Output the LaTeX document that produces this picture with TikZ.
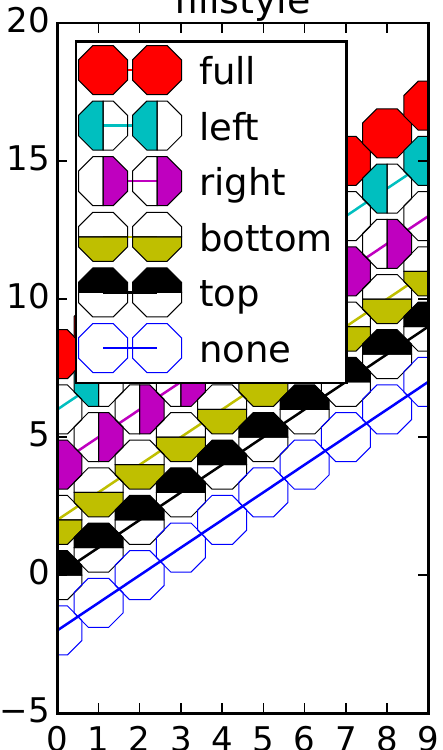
\documentclass[tikz,border=0pt]{standalone}
\usepackage{fontspec}
\setmainfont{DejaVu Sans}
\definecolor{mpc}{rgb}{0,0.75,0.75}
\definecolor{mpm}{rgb}{0.75,0,0.75}
\definecolor{mpy}{rgb}{0.75,0.75,0}
\definecolor{mpb}{rgb}{0,0,1}
\definecolor{mpr}{rgb}{1,0,0}
\def\ra{24.5pt}
\def\rb{10.15pt}
\tikzset{
  octo/.pic={\path[pic actions] (\ra,\rb)--(\rb,\ra)--(-\rb,\ra)--(-\ra,\rb)--(-\ra,-\rb)--(-\rb,-\ra)--(\rb,-\ra)--(\ra,-\rb)--cycle;},
  halfL/.pic={\path[pic actions] (0pt,\ra)--(-\rb,\ra)--(-\ra,\rb)--(-\ra,-\rb)--(-\rb,-\ra)--(0pt,-\ra)--cycle;},
  halfR/.pic={\path[pic actions] (0pt,\ra)--(\rb,\ra)--(\ra,\rb)--(\ra,-\rb)--(\rb,-\ra)--(0pt,-\ra)--cycle;},
  halfT/.pic={\path[pic actions] (\ra,0pt)--(\ra,\rb)--(\rb,\ra)--(-\rb,\ra)--(-\ra,\rb)--(-\ra,0pt)--cycle;},
  halfB/.pic={\path[pic actions] (\ra,0pt)--(\ra,-\rb)--(\rb,-\ra)--(-\rb,-\ra)--(-\ra,-\rb)--(-\ra,0pt)--cycle;},
  nopic/.pic={},
  dataline/.style={line width=2.5pt},
  mk/.style={line width=1pt, line join=miter},
  spine/.style={line width=2.5pt},
  tickmark/.style={line width=1.5pt},
  ticklab/.style={inner sep=0pt, font=\fontsize{34}{36}\selectfont},
  legtext/.style={inner sep=0pt, anchor=base west, font=\fontsize{37}{40}\selectfont},
}
% #1 colour, #2 offset, #3 filled half, #4 alt half, #5 edge colour
\newcommand\mplseries[5]{%
  \draw[dataline, #1] (0,#2) -- (9,{9+(#2)});
  \foreach \i in {0,...,9} {\pic[mk, fill=#1, draw=#5] at (\i,{\i+(#2)}) {#3};}
  \foreach \i in {0,...,9} {\pic[mk, draw=#5] at (\i,{\i+(#2)}) {#4};}
}
% #1 row y, #2 colour, #3 filled, #4 alt, #5 edge, #6 label, #7 name
\newcommand\mplleg[7]{%
  \draw[dataline, #2] (103,#1) -- (157,#1);
  \pic[mk, fill=#2, draw=#5] at (103,#1) {#3};
  \pic[mk, fill=#2, draw=#5] at (157,#1) {#3};
  \pic[mk, draw=#5] at (103,#1) {#4};
  \pic[mk, draw=#5] at (157,#1) {#4};
  \node[legtext] (#7) at (199,{#1+14.5}) {#6};
}
\begin{document}
\begin{tikzpicture}[x=1pt,y=-1pt]
\useasboundingbox (0,0) rectangle (442,750);
\node[anchor=base, inner sep=0pt, font=\fontsize{38}{40}\selectfont] (title) at (242.8,13) {fillstyle};
\begin{scope}[shift={(57.3,575.2)}, x=41.22pt, y=27.62pt]
  \begin{scope}
    \clip (0,-5) rectangle (9,20);
    \mplseries{mpr}{8}{octo}{nopic}{black}
    \mplseries{mpc}{6}{halfL}{halfR}{black}
    \mplseries{mpm}{4}{halfR}{halfL}{black}
    \mplseries{mpy}{2}{halfB}{halfT}{black}
    \mplseries{black}{0}{halfT}{halfB}{black}
    \mplseries{mpb}{-2}{nopic}{octo}{mpb}
  \end{scope}
  \draw[spine] (0,-5) rectangle (9,20);
  \foreach \i in {0,...,9} {
    \draw[tickmark] (\i,-5) -- ++(0,10pt);
    \draw[tickmark] (\i,20) -- ++(0,-10pt);
    \path (\i,-5) ++(0,-25.7pt) node[ticklab] (xl\i) {\i};
  }
  \foreach \j/\t in {-5/−5,0/0,5/5,10/10,15/15,20/20} {
    \draw[tickmark] (0,\j) -- ++(10pt,0);
    \draw[tickmark] (9,\j) -- ++(-10pt,0);
    \path (0,\j) ++(-7.3pt,3pt) node[ticklab, anchor=east] (yl\j) {\t};
  }
\end{scope}
\draw[spine, fill=white] (76,41.7) rectangle (346.5,383);
\mplleg{70}{mpr}{octo}{nopic}{black}{full}{lfull}
\mplleg{125.6}{mpc}{halfL}{halfR}{black}{left}{lleft}
\mplleg{181.2}{mpm}{halfR}{halfL}{black}{right}{lright}
\mplleg{236.8}{mpy}{halfB}{halfT}{black}{bottom}{lbottom}
\mplleg{292.4}{black}{halfT}{halfB}{black}{top}{ltop}
\mplleg{348}{mpb}{nopic}{octo}{mpb}{none}{lnone}
\end{tikzpicture}
\end{document}
